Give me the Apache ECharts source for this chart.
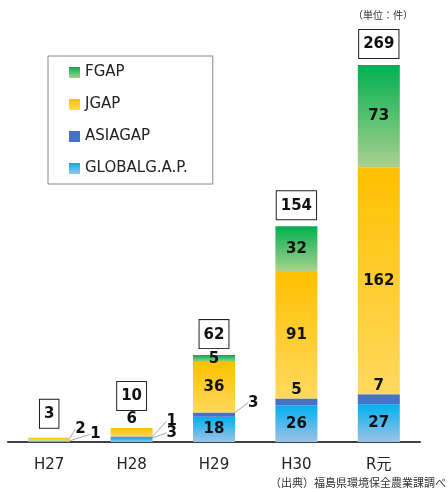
<!DOCTYPE html>
<html>
<head>
<meta charset="utf-8">
<script src="https://cdn.jsdelivr.net/npm/echarts@6/dist/echarts.min.js"></script>
<style>
  html, body { margin: 0; padding: 0; background: #fff; }
  #chart { width: 448px; height: 492px; }
</style>
</head>
<body>
<div id="chart"></div>
<script>
  // 認証取得件数（件）
  const categories = ['H27', 'H28', 'H29', 'H30', 'R元']
  const globalgap = [1, 3, 18, 26, 27]
  const asiagap = [0, 1, 3, 5, 7]
  const jgap = [2, 6, 36, 91, 162]
  const fgap = [0, 0, 5, 32, 73]
  const totals = [3, 10, 62, 154, 269]

  const FONT = '"Noto Sans CJK JP", "Noto Sans", sans-serif'
  const LATIN = '"DejaVu Sans", "Noto Sans CJK JP", sans-serif'

  // labels pulled out of thin segments: [dx from bar edge, dy from segment middle]
  const callouts = {
    'GLOBALG.A.P.': { 0: [20, -7], 1: [14, -7] },
    'ASIAGAP': { 1: [14, -16], 2: [13, -12] },
    'JGAP': { 0: [5, -10] }
  }
  // labels set just above the segment
  const onTop = {
    'ASIAGAP': [3, 4],
    'JGAP': [1]
  }
  // gap between bar and total box
  const totalGap = [10, 18, 7, 7, 7]

  const grad = (top, bottom) => new echarts.graphic.LinearGradient(0, 0, 0, 1, [
    { offset: 0, color: top }, { offset: 1, color: bottom }
  ])

  const numLabel = {
    show: true,
    color: '#111',
    fontFamily: LATIN,
    fontWeight: 'bold',
    fontSize: 15,
    formatter: p => (p.value ? p.value : '')
  }

  function buildData(name, values) {
    return values.map((v, i) => {
      const item = { value: v }
      if (callouts[name] && callouts[name][i]) {
        item.label = { position: 'right' }
        item.labelLine = { show: true, lineStyle: { color: '#a6a6a6', width: 1 } }
      } else if (onTop[name] && onTop[name].indexOf(i) >= 0) {
        item.label = { position: 'top', distance: 1 }
      }
      return item
    })
  }

  function stackSeries(name, values, color) {
    return {
      name: name,
      type: 'bar',
      stack: 'gap',
      barWidth: 42,
      barGap: '-100%',
      itemStyle: { color: color },
      label: Object.assign({ position: 'inside' }, numLabel),
      data: buildData(name, values)
    }
  }

  const seriesNames = ['GLOBALG.A.P.', 'ASIAGAP', 'JGAP', 'FGAP']

  const chart = echarts.init(document.getElementById('chart'))
  chart.setOption({
    animation: false,
    textStyle: { fontFamily: FONT },
    grid: { left: 8, right: 28, top: 21.6, bottom: 50 },
    legend: {
      data: ['FGAP', 'JGAP', 'ASIAGAP', 'GLOBALG.A.P.'],
      orient: 'vertical',
      left: 48,
      top: 56,
      padding: [9, 25, 8, 21],
      itemGap: 17,
      itemWidth: 11,
      itemHeight: 11,
      borderColor: '#7f8694',
      borderWidth: 1,
      icon: 'rect',
      textStyle: { fontFamily: LATIN, fontSize: 15, color: '#222' }
    },
    xAxis: {
      type: 'category',
      data: categories,
      axisLine: { lineStyle: { color: '#404040', width: 2 } },
      axisTick: { show: false },
      axisLabel: { margin: 16, fontSize: 15, color: '#222', fontFamily: LATIN }
    },
    yAxis: { type: 'value', min: 0, max: 300, show: false },
    labelLayout: function (params) {
      const name = seriesNames[params.seriesIndex]
      const c = callouts[name] && callouts[name][params.dataIndex]
      if (!c) return {}
      const r = params.rect
      return {
        x: r.x + r.width + c[0],
        y: r.y + r.height / 2 + c[1],
        align: 'left',
        verticalAlign: 'middle'
      }
    },
    series: [
      stackSeries('GLOBALG.A.P.', globalgap, grad('#00b0f0', '#9dc3e6')),
      stackSeries('ASIAGAP', asiagap, '#4472c4'),
      stackSeries('JGAP', jgap, grad('#ffc000', '#ffd95e')),
      stackSeries('FGAP', fgap, grad('#00b050', '#a9d18e')),
      {
        name: 'total',
        type: 'bar',
        barWidth: 42,
        barGap: '-100%',
        silent: true,
        z: 1,
        itemStyle: { color: 'rgba(0,0,0,0)' },
        label: {
          show: true,
          position: 'top',
          color: '#111',
          fontFamily: LATIN,
          fontWeight: 'bold',
          fontSize: 15,
          backgroundColor: '#fff',
          borderColor: '#222',
          borderWidth: 1,
          padding: [7, 4, 6, 4]
        },
        data: totals.map((v, i) => ({ value: v, label: { distance: totalGap[i] } }))
      }
    ],
    graphic: [
      {
        type: 'text', right: 35, top: 10,
        style: { text: '（単位：件）', fontSize: 10, fill: '#333', fontFamily: FONT }
      },
      {
        type: 'text', right: 2, top: 477,
        style: { text: '（出典）福島県環境保全農業課調べ', fontSize: 11, fill: '#333', fontFamily: FONT }
      }
    ]
  })
</script>
</body>
</html>
